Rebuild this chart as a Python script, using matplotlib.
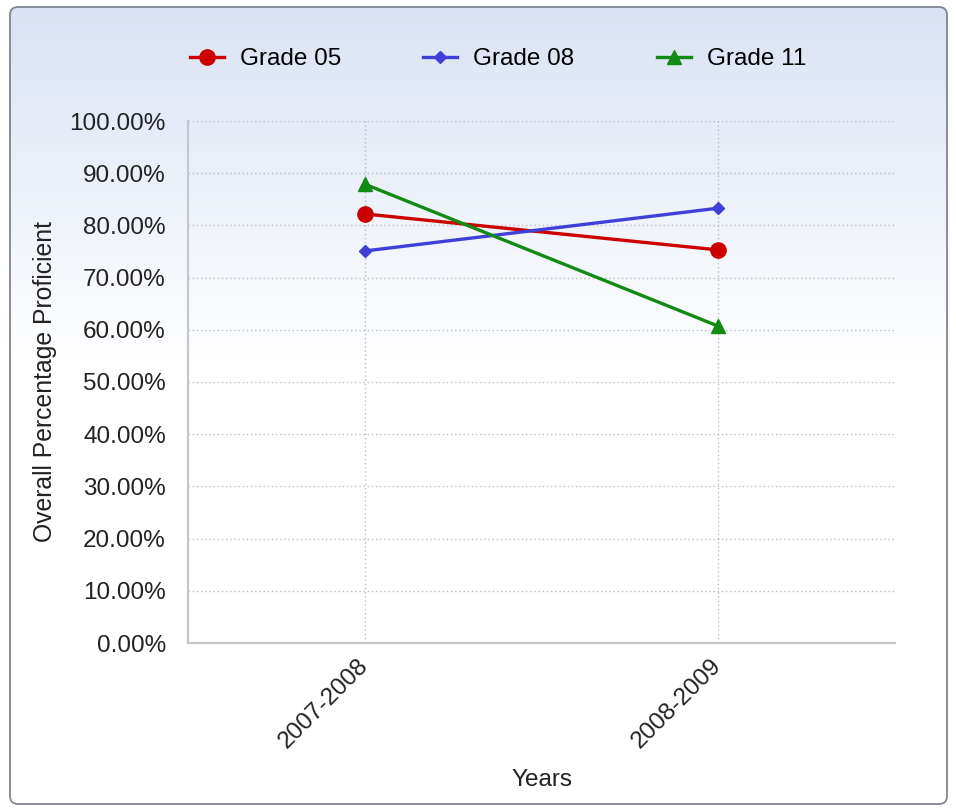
import matplotlib.pyplot as plt
import numpy as np
from matplotlib.patches import FancyBboxPatch
from matplotlib.ticker import FuncFormatter
from matplotlib.transforms import ScaledTranslation

plt.rcParams['font.family'] = ['Liberation Sans', 'DejaVu Sans']

years = ['2007-2008', '2008-2009']
grade_05 = [82.2, 75.3]
grade_08 = [75.1, 83.3]
grade_11 = [87.9, 60.7]

fig = plt.figure(figsize=(9.56, 8.08), dpi=100)

# background panel with gradient and rounded border
bg = fig.add_axes([0, 0, 1, 1])
bg.set_xlim(0, 956)
bg.set_ylim(808, 0)
bg.axis('off')
box = FancyBboxPatch((10, 7), 937, 797, boxstyle='round,pad=0,rounding_size=8',
                     facecolor='none', edgecolor='#80868f', linewidth=1.3, zorder=3)
bg.add_patch(box)
grad = np.linspace(0, 1, 256).reshape(-1, 1)
grad = np.clip(grad / 0.45, 0, 1)
top = np.array([0.855, 0.89, 0.955])
img = top[None, None, :] * (1 - grad[:, :, None]) + np.ones(3)[None, None, :] * grad[:, :, None]
im = bg.imshow(img, extent=(10, 947, 804, 7), aspect='auto', zorder=1)
im.set_clip_path(box)

ax = fig.add_axes([188 / 956, 1 - 643 / 808, (895 - 188) / 956, (643 - 121) / 808])
ax.patch.set_alpha(0)
x = np.arange(len(years))
ax.plot(x, grade_05, color='#cc0000', lw=2.4, marker='o', ms=11, label='Grade 05', zorder=4)
ax.plot(x, grade_08, color='#4040d8', lw=2.4, marker='D', ms=6.5, label='Grade 08', zorder=4)
ax.plot(x, grade_11, color='#138a13', lw=2.4, marker='^', ms=10, label='Grade 11', zorder=4)

ax.set_xlim(-0.5, 1.5)
ax.set_ylim(0, 100)
ax.set_yticks(np.arange(0, 101, 10))
ax.yaxis.set_major_formatter(FuncFormatter(lambda v, p: f'{v:.2f}%'))
ax.set_xticks(x)
ax.set_xticklabels(years, rotation=45, ha='right', rotation_mode='anchor', fontsize=17.5)
ax.tick_params(axis='both', length=0, colors='#222222')
ax.tick_params(axis='y', pad=16, labelsize=17.5)
ax.tick_params(axis='x', pad=8)
for lbl in ax.get_xticklabels():
    lbl.set_transform(lbl.get_transform() + ScaledTranslation(-8 / 100, 0, fig.dpi_scale_trans))
ax.grid(True, linestyle=(0, (1, 2)), color='#bbbbbb', linewidth=1)
ax.set_axisbelow(True)
for s in ['top', 'right']:
    ax.spines[s].set_visible(False)
for s in ['left', 'bottom']:
    ax.spines[s].set_color('#c4c8cc')
    ax.spines[s].set_linewidth(1.6)

ax.set_ylabel('Overall Percentage Proficient', fontsize=17.8, color='#222222', labelpad=9)
ax.set_xlabel('Years', fontsize=17.5, color='#222222', labelpad=12)

fig.legend(loc='center', bbox_to_anchor=(498 / 956, 1 - 59 / 808), ncol=3, frameon=False,
           fontsize=17.5, handlelength=1.4, columnspacing=3.4, handletextpad=0.65)

fig.savefig('out.png', dpi=100)
